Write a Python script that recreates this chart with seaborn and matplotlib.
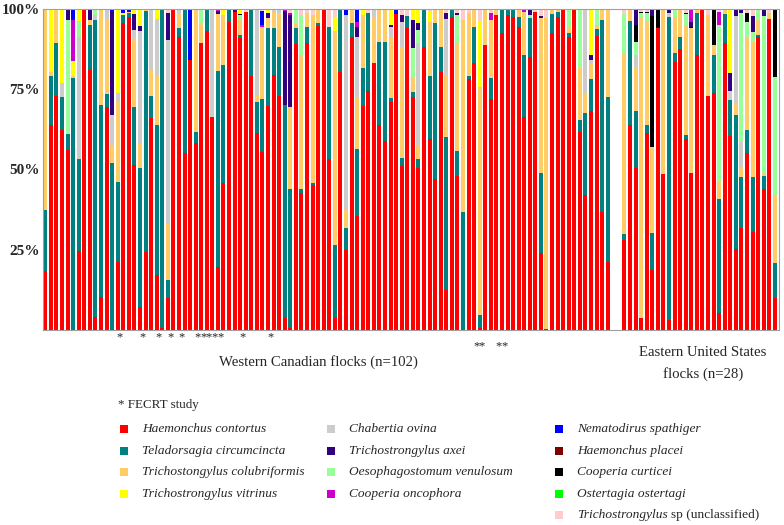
import numpy as np
import pandas as pd
import matplotlib
matplotlib.use("Agg")
import matplotlib.pyplot as plt
from matplotlib.patches import Rectangle
import seaborn as sns

# ---------------- data (percent of larvae per flock) ----------------
west_ids = [f"W{i}" for i in range(1, 103)]
east_ids = [f"E{i}" for i in range(1, 29)]
bar_ids = west_ids + east_ids

contortus = [
    18.5, 64, 73, 62.3, 56, 0, 24.7, 100, 81, 4,
    10.4, 69.6, 0, 21.3, 95.5, 97.6, 51.4, 7.3, 24.4, 66,
    17, 0.5, 10, 100, 91.4, 55, 84, 58.4, 89.5, 93,
    66.3, 19.7, 45.9, 96, 99, 90.9, 99, 79, 61.3, 55.6,
    69.8, 79.4, 72.9, 3.6, 0.5, 89, 42.8, 89.5, 45.2, 94.7,
    100, 53.2, 3.6, 80.5, 24.9, 91.2, 35.5, 69.8, 74.6, 83.3,
    63.9, 59, 71.1, 98.4, 51.1, 94, 72.7, 50.4, 88.3, 59.4,
    46.9, 80.5, 12.5, 97.6, 48, 0, 78.1, 83.3, 0.5, 88.8,
    71.9, 98.1, 92.6, 98, 97.4, 94.3, 66.3, 85.2, 99, 23.9,
    0.3, 92.4, 97.6, 100, 91.4, 100, 61.8, 42, 68.3, 91.6,
    36.9, 21.3,
    28, 63.9, 50.6, 3.6, 61.3, 18.7, 94, 48.6, 3.1, 83.6,
    87.4, 59.4, 49, 85.7, 100, 72.9, 73.7, 5.2, 89.3, 60.4,
    25.1, 31.7, 55.2, 30.6, 91.2, 43.8, 96.8, 9.9,
]
circumcincta = [
    19, 15, 16.3, 10.2, 5, 78.4, 28.5, 0, 14, 92.6,
    59.6, 3.9, 52, 24.9, 2.5, 1, 18.2, 43.1, 75.1, 7,
    47, 99.5, 5.6, 0, 2.6, 45, 0, 3.4, 0, 7,
    0, 61.1, 36.7, 4, 0, 1, 0, 21, 9.8, 16.3,
    24.2, 14.6, 15.4, 66.4, 43.5, 5, 1.2, 5, 0.5, 1,
    0, 41.1, 22.9, 19.5, 6.8, 4.3, 20.8, 11.7, 24, 0,
    25.9, 30.8, 1.1, 0, 2.4, 3.7, 1.5, 2.8, 11.7, 19.7,
    48.8, 7.8, 47.7, 2.4, 7.9, 36.9, 1, 11.2, 4.2, 0,
    6.5, 0, 7.4, 2, 2.6, 3.3, 19.4, 11.9, 0, 24.9,
    0, 6, 1.4, 0, 1, 0, 3.6, 25.7, 9.8, 2.1,
    59.7, 51.2,
    1.8, 32.5, 17.7, 0, 2.6, 11.4, 0, 0, 94.5, 2.6,
    4, 1.3, 0, 12.9, 0, 0, 12, 35.5, 9.1, 11.3,
    41.9, 16.1, 7.1, 17.2, 0.7, 4.2, 0, 10.9,
]
colubriformis = [
    62.5, 1.5, 10.7, 0, 0, 0.8, 0, 0, 1.5, 0,
    30, 23.5, 5.2, 24.9, 0, 0.4, 21, 7.6, 0.5, 8,
    15, 0, 17.4, 0, 4.6, 0, 0, 38.2, 6, 0,
    0, 17.6, 15.4, 0, 0, 4.6, 0, 0, 1.9, 22.6,
    3.1, 5.2, 10.3, 0, 25.6, 1.5, 41.7, 4.1, 52.3, 4.3,
    0, 0, 66.5, 0, 5.7, 4.5, 16.4, 16.5, 0, 14.3,
    10.2, 10.2, 19.2, 0, 34.8, 0, 4.7, 4.5, 0, 16.9,
    4.3, 11.7, 19.2, 0, 33.4, 59.7, 19.7, 5.5, 70.6, 11.2,
    18.2, 1.9, 0, 0, 0, 2.4, 13.3, 0, 0, 48.3,
    97, 1.6, 1, 0, 1.9, 0, 16.1, 6, 4.9, 1.3,
    3.4, 27.5,
    56.4, 3.6, 13.7, 94, 32.5, 27, 0, 51.4, 0, 11.4,
    8.6, 34.3, 45.5, 1.4, 0, 25.1, 3.1, 5.5, 1.6, 0,
    3.6, 3.1, 29.1, 42, 4.7, 0.8, 1.9, 21.2,
]
chabertia = [
    0, 0, 0, 4.5, 0, 0, 38.2, 0, 0, 1.4,
    0, 3, 9.8, 2.6, 0, 0, 3, 35, 0, 19,
    18, 0, 57.3, 0, 1.4, 0, 0, 0, 0, 0,
    33.7, 0, 0, 0, 0, 0, 0, 0, 27, 0,
    0, 0.8, 1.4, 0, 0, 0, 0, 0, 0, 0,
    0, 0, 0, 0, 60.6, 0, 18.7, 0, 0, 2.4,
    0, 0, 3.1, 0, 7.8, 0, 0, 31.7, 0, 0,
    0, 0, 17.6, 0, 0, 0, 0, 0, 0.5, 0,
    0, 0, 0, 0, 0, 0, 0, 0, 0, 0,
    0, 0, 0, 0, 0, 0, 0, 26.3, 1.2, 0,
    0, 0,
    0, 0, 3.7, 0, 0, 0, 0, 0, 1, 0,
    0, 0, 0, 0, 0, 0, 0, 0, 0, 2.9,
    27.2, 7.8, 0, 0, 0, 0, 0, 0,
]
oesophagostomum = {
    "W5": 35.6, "W7": 5, "W10": 2, "W29": 4.5, "W36": 1.5, "W46": 4.5, "W47": 12.3,
    "W67": 9.1, "W68": 4.2, "W75": 8.8, "W88": 1, "W95": 5.7, "W97": 18.5, "W100": 5,
    "E1": 12.2, "E3": 4.1, "E4": 1, "E5": 2.3, "E10": 2.4, "E12": 3.4, "E18": 48.8,
    "E22": 39.9, "E23": 4.6, "E24": 3.1, "E25": 3.4, "E26": 49, "E28": 36.9,
}
curticei = {
    "W36": 0.5, "E3": 5.2, "E4": 0.4, "E5": 0.5, "E6": 40.7, "E7": 6, "E12": 0.5,
    "E13": 0.3, "E17": 11.2, "E23": 2.6, "E28": 21.1,
}
axei = {
    "W5": 3.4, "W9": 3.5, "W13": 32, "W17": 4.7, "W18": 1.7, "W23": 8.6, "W32": 1,
    "W35": 1, "W41": 1.6, "W44": 29.5, "W45": 28.5, "W57": 2.9, "W63": 0.5, "W65": 2,
    "W67": 8.6, "W68": 2, "W73": 1.6, "W75": 0.7, "W88": 1.9, "W90": 0.8, "W99": 1.4,
    "E3": 5, "E6": 2.2, "E9": 1.4, "E13": 1.5, "E20": 5.6, "E21": 2.2, "E22": 1.4,
    "E24": 4.9, "E26": 2.2,
}
vitrinus = {
    "W2": 19.5, "W4": 23, "W6": 4.7, "W7": 3.6, "W14": 26.3, "W15": 0.8, "W17": 1.7,
    "W18": 5.3, "W21": 3, "W33": 2, "W36": 1.5, "W41": 1.3, "W53": 4.6, "W58": 2,
    "W63": 5, "W67": 3.4, "W68": 4.4, "W70": 3.1, "W79": 20.6, "W99": 14.4, "E20": 19.8,
}
oncophora = {
    "W6": 12.7, "W32": 0.6, "W40": 0.5, "W44": 0.5, "W45": 0.5, "W57": 1.5,
    "W81": 2.3, "W87": 1, "E13": 4, "E18": 4.1,
}
nematodirus = {
    "W6": 3.4, "W13": 1, "W15": 1.2, "W16": 1, "W27": 16, "W40": 4.5, "W55": 2,
    "W57": 4.2, "W64": 1.6,
}
placei = {}
ostertagi = {}
unclassified = {
    "W23": 1.1, "W37": 1, "W40": 0.5, "W45": 1.4, "W47": 2, "W48": 1.4, "W49": 2,
    "W52": 5.7, "W53": 2.4, "W59": 1.4, "W65": 1.9, "W66": 2.3, "W70": 0.9, "W73": 1.4,
    "W75": 1.2, "W76": 3.4, "W77": 1.2, "W79": 3.6, "W81": 1.1, "W89": 1, "W90": 2.1,
    "W91": 2.7, "E1": 1.6, "E4": 1, "E5": 0.8, "E12": 1.1, "E16": 2, "E18": 0.9,
    "E23": 1.4, "E24": 2.2, "E27": 1.3,
}

fecrt_row1 = ["W14", "W18", "W21", "W23", "W25", "W28", "W29", "W30", "W31", "W32", "W36", "W41"]
fecrt_row2 = ["W78", "W79", "W82", "W83"]

# ---------------- helpers ----------------
def full(d):
    return np.array([d.get(b, 0.0) for b in bar_ids], dtype=float)

# stacking order (bottom -> top), colours
stack = [
    ("Haemonchus contortus", np.array(contortus, float), "#ff0000"),
    ("Teladorsagia circumcincta", np.array(circumcincta, float), "#008080"),
    ("Trichostongylus colubriformis", np.array(colubriformis, float), "#ffcc66"),
    ("Chabertia ovina", np.array(chabertia, float), "#cccccc"),
    ("Oesophagostomum venulosum", full(oesophagostomum), "#99ff99"),
    ("Cooperia curticei", full(curticei), "#000000"),
    ("Trichostrongylus axei", full(axei), "#330080"),
    ("Trichostrongylus vitrinus", full(vitrinus), "#ffff00"),
    ("Cooperia oncophora", full(oncophora), "#cc00cc"),
    ("Nematodirus spathiger", full(nematodirus), "#0000ff"),
    ("Haemonchus placei", full(placei), "#800000"),
    ("Ostertagia ostertagi", full(ostertagi), "#00ff00"),
    ("Trichostrongylus sp", full(unclassified), "#ffcccc"),
]
totals = sum(s[1] for s in stack)

positions = list(range(len(west_ids))) + list(range(len(west_ids) + 2, len(west_ids) + 2 + len(east_ids)))
pos_of = dict(zip(bar_ids, positions))

# ---------------- figure ----------------
sns.set_theme(style="white")
plt.rcParams["font.family"] = ["Liberation Serif", "DejaVu Serif"]

W, H = 784, 525
fig = plt.figure(figsize=(W / 100, H / 100), dpi=100)
ax = fig.add_axes([42.5 / W, 1 - 330 / H, (779 - 42.5) / W, 321 / H])

bottom = np.zeros(len(bar_ids))
for name, vals, col in stack:
    pct = vals / totals * 100
    df = pd.DataFrame({"pos": positions, "pct": pct})
    sns.barplot(data=df, x="pos", y="pct", bottom=bottom.copy(), native_scale=True,
                color=col, saturation=1, width=0.72, linewidth=0, errorbar=None, ax=ax)
    bottom += pct

ax.set_xlim(-0.5, positions[-1] + 0.75)
ax.set_ylim(0, 100)
ax.set_xlabel("")
ax.set_ylabel("")
ax.set_xticks([])
ax.set_yticks([25, 50, 75, 100])
ax.set_yticklabels(["25%", "50%", "75%", "100%"], fontweight="bold", fontsize=11)
ax.tick_params(axis="y", length=0, pad=2)
for sp in ax.spines.values():
    sp.set_visible(True)
    sp.set_color("#a0a0a0")
    sp.set_linewidth(0.8)

# FECRT stars
xt = ax.get_xaxis_transform()
for b in fecrt_row1:
    ax.text(pos_of[b] + 0.4, -0.033, "*", transform=xt, ha="center", va="baseline", fontsize=9)
for b in fecrt_row2:
    ax.text(pos_of[b] + 0.4, -0.060, "*", transform=xt, ha="center", va="baseline", fontsize=9)

# group labels
fig.text(318 / W, 1 - 362 / H, "Western Canadian flocks (n=102)", ha="center", va="center", fontsize=10.6)
fig.text(703 / W, 1 - 352 / H, "Eastern United States", ha="center", va="center", fontsize=10.6)
fig.text(703 / W, 1 - 374 / H, "flocks (n=28)", ha="center", va="center", fontsize=10.6)

# legend (manual, 3 columns)
fig.text(118 / W, 1 - 405 / H, "* FECRT study", ha="left", va="center", fontsize=9.4)
legend_cols = [
    (124, ["Haemonchus contortus", "Teladorsagia circumcincta",
           "Trichostongylus colubriformis", "Trichostrongylus vitrinus"]),
    (331, ["Chabertia ovina", "Trichostrongylus axei",
           "Oesophagostomum venulosum", "Cooperia oncophora"]),
    (559, ["Nematodirus spathiger", "Haemonchus placei", "Cooperia curticei",
           "Ostertagia ostertagi", "Trichostrongylus sp"]),
]
colour_of = {n: c for n, _, c in stack}
row_y = [429, 451, 472, 494, 515]
fig.canvas.draw()
renderer = fig.canvas.get_renderer()
for sx, names in legend_cols:
    for i, name in enumerate(names):
        y = row_y[i]
        fig.add_artist(Rectangle(((sx - 4) / W, 1 - (y + 4) / H), 8 / W, 8 / H,
                                 transform=fig.transFigure, color=colour_of[name], lw=0))
        t = fig.text((sx + 18) / W, 1 - y / H, name, ha="left", va="center",
                     fontsize=9.6, fontstyle="italic")
        if name == "Trichostrongylus sp":
            t.set_text("Trichostrongylus")
            bb = t.get_window_extent(renderer=renderer)
            fig.text(bb.x1 / W + 3 / W, 1 - y / H, "sp (unclassified)", ha="left",
                     va="center", fontsize=9.6)

fig.savefig("out.png", dpi=100)
